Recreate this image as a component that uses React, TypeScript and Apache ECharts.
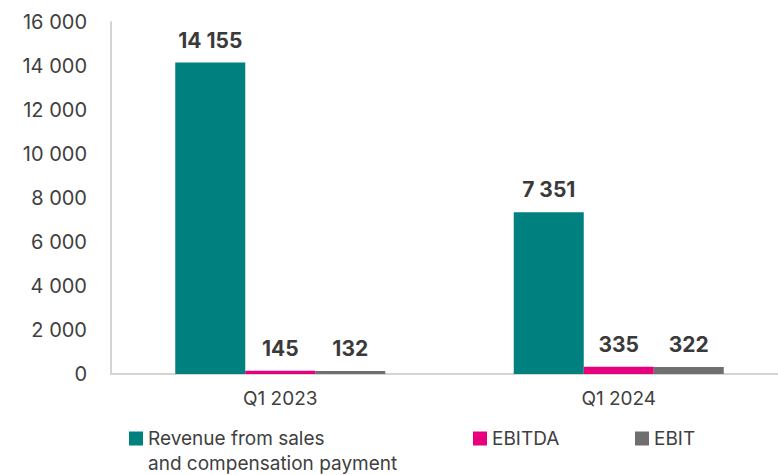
import React, { useEffect, useRef } from "react";
import * as echarts from "echarts";

const categories = ["Q1 2023", "Q1 2024"];
const seriesNames = ["Revenue from sales and compensation payment", "EBITDA", "EBIT"];
const legendLine1 = "Revenue from sales";
const legendLine2 = "and compensation payment";
const revenue = [14155, 7351];
const ebitda = [145, 335];
const ebit = [132, 322];
const yTicks = [0, 2000, 4000, 6000, 8000, 10000, 12000, 14000, 16000];

const colors = ["#00807F", "#E6007E", "#6F6F6F"];
const FONT = "Inter";

const fmt = (v: number) => String(Math.round(v)).replace(/\B(?=(\d{3})+(?!\d))/g, " ");

export default function App() {
  const ref = useRef<HTMLDivElement>(null);
  useEffect(() => {
    if (!ref.current) return;
    const chart = echarts.init(ref.current, null, { renderer: "svg" });
    const values = [revenue, ebitda, ebit];
    const legendCommon = {
      top: 429,
      padding: 0,
      itemWidth: 14,
      itemHeight: 14,
      icon: "rect",
      selectedMode: false,
      textStyle: { color: "#404040", fontSize: 19, fontFamily: FONT },
    };
    chart.setOption({
      animation: false,
      textStyle: { fontFamily: FONT },
      grid: { left: 111, width: 677, top: 22, bottom: 101, containLabel: false, outerBoundsMode: "none" },
      xAxis: {
        type: "category",
        data: categories,
        axisLine: { lineStyle: { color: "#d4d4d4", width: 2 } },
        axisTick: { show: false },
        axisLabel: { color: "#404040", fontSize: 19, fontFamily: FONT, margin: 15 },
      },
      yAxis: {
        type: "value",
        min: yTicks[0],
        max: yTicks[yTicks.length - 1],
        interval: 2000,
        axisLine: { show: true, lineStyle: { color: "#d4d4d4", width: 2 } },
        axisTick: { show: false },
        splitLine: { show: false },
        axisLabel: {
          color: "#404040",
          fontSize: 20,
          fontFamily: FONT,
          margin: 24,
          formatter: (v: number) => fmt(v),
        },
      },
      legend: [
        { ...legendCommon, data: [seriesNames[0]], left: 129, formatter: () => legendLine1 },
        { ...legendCommon, data: [seriesNames[1]], left: 473 },
        { ...legendCommon, data: [seriesNames[2]], left: 635 },
      ],
      graphic: [
        {
          type: "text",
          left: 148,
          top: 454,
          style: { text: legendLine2, fill: "#404040", fontSize: 19, fontFamily: FONT },
        },
      ],
      series: seriesNames.map((name, i) => ({
        name,
        type: "bar",
        data: values[i],
        barWidth: 70,
        barGap: "0%",
        itemStyle: { color: colors[i] },
        label: {
          show: true,
          position: "top",
          distance: 12,
          color: "#3a3a3a",
          fontSize: 21,
          fontWeight: "bold",
          fontFamily: FONT,
          formatter: (p: any) => fmt(p.value),
        },
      })),
    });
    return () => chart.dispose();
  }, []);
  return <div ref={ref} style={{ width: 778, height: 475, position: "absolute", left: 0, top: 0 }} />;
}
